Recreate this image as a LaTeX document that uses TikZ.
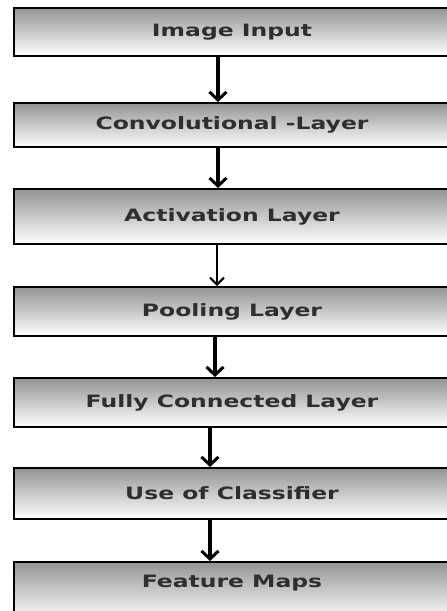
\documentclass[tikz,border=0pt]{standalone}
\usepackage{fontspec}
\newfontfamily\boxfont[FakeStretch=1.38]{DejaVu Sans}
\usetikzlibrary{arrows.meta}
\definecolor{txt}{HTML}{2E2E2E}
\tikzset{
  boxtext/.style={font=\boxfont\bfseries\fontsize{17}{17}\selectfont, text=txt},
  layer/.style={draw=black, line width=2pt, rectangle, minimum width=436pt,
    top color=black!42, bottom color=white, inner sep=0pt, boxtext},
  arr/.style={line width=3.5pt, -{Straight Barb[length=8pt,width=17pt,line width=3pt]}},
  thinarr/.style={line width=1.4pt, -{Straight Barb[length=7pt,width=14pt,line width=2pt]}}
}
\begin{document}
\begin{tikzpicture}[x=1pt,y=-1pt]
\useasboundingbox (0,0) rectangle (447,611);
\clip (0,0) rectangle (447,611);
\fill[white] (0,0) rectangle (447,611);
\node[layer, minimum height=48pt] (n1) at (232,32) {Image Input};
\node[layer, minimum height=44pt] (n2) at (232,125) {Convolutional -Layer};
\node[layer, minimum height=55pt] (n3) at (232,216.5) {Activation Layer};
\node[layer, minimum height=49pt] (n4) at (232,311.5) {Pooling Layer};
\node[layer, minimum height=49pt] (n5) at (232,402.5) {Fully Connected Layer};
\node[layer, minimum height=51pt] (n6) at (232,493.5) {Use of Classifier};
\node[layer, minimum height=58pt] (n7) at (232,591) {};
\node[boxtext] (t7) at (232,583) {Feature Maps};
\draw[arr] ([xshift=-14pt]n1.south) -- ([xshift=-14pt]n2.north);
\draw[arr] ([xshift=-14pt]n2.south) -- ([xshift=-14pt]n3.north);
\draw[thinarr] ([xshift=-15pt]n3.south) -- ([xshift=-15pt]n4.north);
\draw[arr] ([xshift=-17pt]n4.south) -- ([xshift=-17pt]n5.north);
\draw[arr] ([xshift=-22pt]n5.south) -- ([xshift=-22pt]n6.north);
\draw[arr] ([xshift=-22pt]n6.south) -- ([xshift=-22pt]n7.north);
\end{tikzpicture}
\end{document}
